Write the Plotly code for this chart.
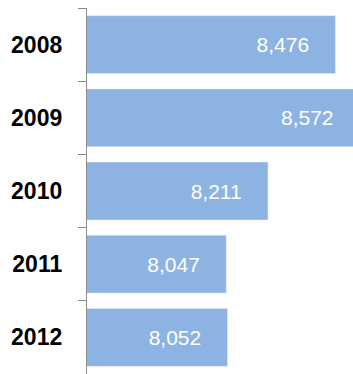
import plotly.graph_objects as go

years = ["2008", "2009", "2010", "2011", "2012"]
values = [8476, 8572, 8211, 8047, 8052]
labels = ["8,476", "8,572", "8,211", "8,047", "8,052"]

bar_color = "#8DB3E2"
axis_color = "#8C8C8C"
font_family = "Liberation Sans, Arial, sans-serif"
pad = "\u00a0\u00a0\u00a0\u00a0"

fig = go.Figure()
fig.add_trace(go.Bar(
    x=values, y=years, orientation="h",
    marker=dict(color=bar_color),
    text=labels, textposition="inside", insidetextanchor="end",
    texttemplate="%{text}" + pad,
    textfont=dict(family=font_family, size=21, color="white"),
))

fig.update_layout(
    width=353, height=374,
    margin=dict(l=87, r=0, t=8, b=0),
    paper_bgcolor="white", plot_bgcolor="white",
    bargap=0.21,
    showlegend=False,
    xaxis=dict(range=[7500, 8545], showticklabels=False, showgrid=False, zeroline=False),
    yaxis=dict(
        type="category",
        categoryorder="array", categoryarray=years[::-1],
        showline=True, linecolor=axis_color, linewidth=1,
        ticks="outside", ticklen=8, tickcolor=axis_color,
        tickson="boundaries",
        showgrid=False,
        ticksuffix="\u00a0\u00a0\u00a0",
        tickfont=dict(family=font_family, size=23, color="black", weight="bold"),
    ),
)

fig.write_html("out.html")
